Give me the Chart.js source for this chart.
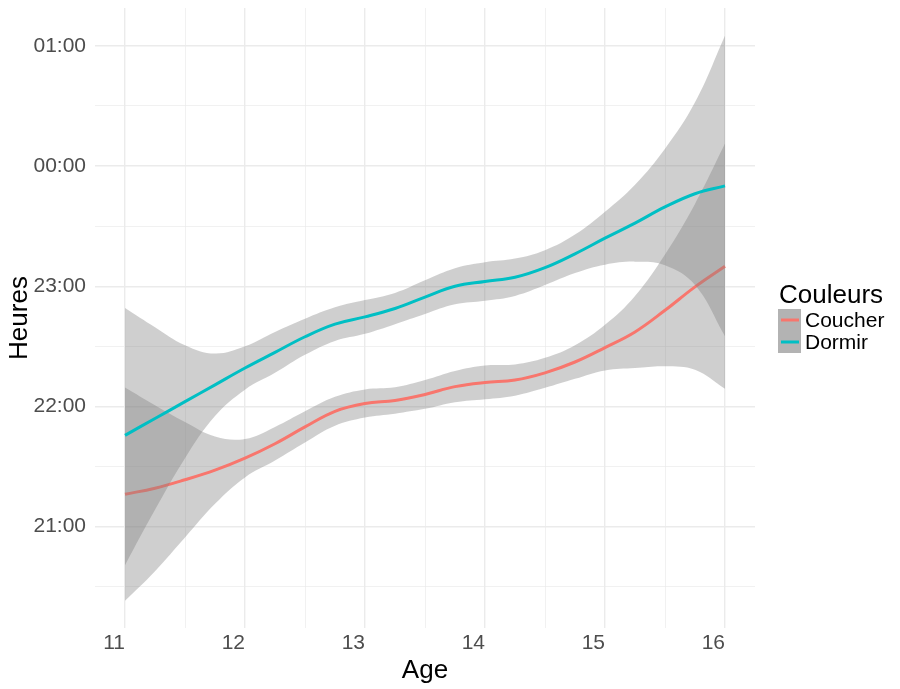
<!DOCTYPE html>
<html>
<head>
<meta charset="utf-8">
<title>Heures de coucher</title>
<script src="https://cdn.jsdelivr.net/npm/chart.js@4"></script>
<style>
  html, body { margin: 0; padding: 0; background: #fff; }
</style>
</head>
<body>
<canvas id="smooth-chart" width="900" height="689"></canvas>
<script>
// ages where the smoothed curves were read
const ages = [11, 11.25, 11.5, 11.75, 12, 12.25, 12.5, 12.75, 13, 13.25, 13.5,
              13.75, 14, 14.25, 14.5, 14.75, 15, 15.25, 15.5, 15.75, 16];

// hours (24 = 00:00, 25 = 01:00)
const coucher      = [21.27, 21.32, 21.39, 21.47, 21.57, 21.69, 21.83, 21.96, 22.025, 22.05, 22.10,
                      22.165, 22.20, 22.22, 22.28, 22.37, 22.49, 22.62, 22.80, 22.995, 23.167];
const coucherHaut  = [22.157, 22.01, 21.87, 21.75, 21.73, 21.83, 21.96, 22.08, 22.142, 22.16, 22.22,
                      22.295, 22.34, 22.35, 22.405, 22.51, 22.68, 22.92, 23.265, 23.685, 24.187];
const coucherBas   = [20.383, 20.63, 20.91, 21.19, 21.41, 21.55, 21.70, 21.84, 21.908, 21.94, 21.98,
                      22.035, 22.06, 22.09, 22.155, 22.23, 22.30, 22.32, 22.335, 22.305, 22.147];

const dormir       = [21.76, 21.90, 22.04, 22.18, 22.32, 22.45, 22.58, 22.685, 22.745, 22.815, 22.91,
                      23.00, 23.04, 23.075, 23.155, 23.27, 23.40, 23.525, 23.66, 23.77, 23.835];
const dormirHaut   = [22.82, 22.66, 22.51, 22.44, 22.50, 22.62, 22.73, 22.825, 22.885, 22.945, 23.05,
                      23.15, 23.20, 23.23, 23.30, 23.43, 23.62, 23.845, 24.145, 24.53, 25.085];
const dormirBas    = [20.68, 21.14, 21.57, 21.92, 22.14, 22.28, 22.43, 22.545, 22.605, 22.685, 22.77,
                      22.85, 22.88, 22.92, 23.01, 23.11, 23.18, 23.205, 23.175, 23.01, 22.585];

const xTicks = [11, 11.5, 12, 12.5, 13, 13.5, 14, 14.5, 15, 15.5, 16];
const yTicks = [20.5, 21, 21.5, 22, 22.5, 23, 23.5, 24, 24.5, 25];
const yTickLabels = {21: '21:00', 22: '22:00', 23: '23:00', 24: '00:00', 25: '01:00'};

const seriesNames = ['Coucher', 'Dormir'];
const seriesColors = ['#F8766D', '#00BFC4'];
const legendTitle = 'Couleurs';

const FONT = '"Liberation Sans", Arial, Helvetica, sans-serif';
const RIBBON = 'rgba(130,130,130,0.38)';

const pts = ys => ys.map((y, i) => ({x: ages[i], y: y}));

const lineSet = (label, ys, color) => ({
    label: label,
    data: pts(ys),
    borderColor: color,
    borderWidth: 3,
    pointRadius: 0,
    fill: false,
    tension: 0.4
});

const bandSet = (ys, fill) => ({
    label: '',
    data: pts(ys),
    borderWidth: 0,
    borderColor: 'rgba(0,0,0,0)',
    backgroundColor: RIBBON,
    pointRadius: 0,
    fill: fill,
    tension: 0.4
});

const majorGrid = v => Number.isInteger(v);

const legendKeys = {
    id: 'legendKeys',
    afterDraw(chart) {
        const ctx = chart.ctx;
        const left = chart.chartArea.right + 23;
        ctx.save();
        ctx.fillStyle = '#000';
        ctx.font = '26px ' + FONT;
        ctx.textBaseline = 'alphabetic';
        ctx.fillText(legendTitle, left + 1, 303);
        ctx.fillStyle = '#b3b3b3';
        ctx.fillRect(left, 309, 23, 44);
        seriesNames.forEach((name, i) => {
            const y = 320 + i * 22;
            ctx.strokeStyle = seriesColors[i];
            ctx.lineWidth = 3;
            ctx.beginPath();
            ctx.moveTo(left + 3, y);
            ctx.lineTo(left + 21, y);
            ctx.stroke();
            ctx.fillStyle = '#000';
            ctx.font = '21px ' + FONT;
            ctx.textBaseline = 'middle';
            ctx.fillText(name, left + 27, y + 1);
        });
        ctx.restore();
    }
};

const chart = new Chart(document.getElementById('smooth-chart'), {
    type: 'line',
    data: {
        // index 0 is drawn last (on top): teal group over red group
        datasets: [
            lineSet(seriesNames[1], dormir, seriesColors[1]),
            bandSet(dormirHaut, false),
            bandSet(dormirBas, '-1'),
            lineSet(seriesNames[0], coucher, seriesColors[0]),
            bandSet(coucherHaut, false),
            bandSet(coucherBas, '-1')
        ]
    },
    options: {
        responsive: false,
        animation: false,
        layout: { padding: { top: 8, right: 145, left: 0, bottom: 0 } },
        plugins: {
            legend: { display: false },
            tooltip: { enabled: false }
        },
        scales: {
            x: {
                type: 'linear',
                min: 10.75,
                max: 16.25,
                afterBuildTicks: s => { s.ticks = xTicks.map(v => ({value: v})); },
                afterFit: s => { s.height = 61; s.paddingLeft = 0; s.paddingRight = 0; },
                border: { display: false },
                grid: {
                    drawTicks: false,
                    color: '#ebebeb',
                    lineWidth: c => majorGrid(c.tick.value) ? 1.4 : 0.7
                },
                ticks: {
                    autoSkip: false,
                    maxRotation: 0,
                    align: 'end',
                    padding: 3,
                    color: '#4d4d4d',
                    font: { family: FONT, size: 21 },
                    callback: v => majorGrid(v) ? String(v) : ''
                },
                title: {
                    display: true,
                    text: 'Age',
                    color: '#000',
                    font: { family: FONT, size: 26 },
                    padding: { top: 3, bottom: 3 }
                }
            },
            y: {
                type: 'linear',
                min: 20.157,
                max: 25.315,
                afterBuildTicks: s => { s.ticks = yTicks.map(v => ({value: v})); },
                afterFit: s => { s.width = 95; s.paddingTop = 0; s.paddingBottom = 0; },
                border: { display: false },
                grid: {
                    drawTicks: false,
                    color: '#ebebeb',
                    lineWidth: c => majorGrid(c.tick.value) ? 1.4 : 0.7
                },
                ticks: {
                    autoSkip: false,
                    padding: 9,
                    color: '#4d4d4d',
                    font: { family: FONT, size: 21 },
                    callback: v => yTickLabels[v] || ''
                },
                title: {
                    display: true,
                    text: 'Heures',
                    color: '#000',
                    font: { family: FONT, size: 26 },
                    padding: { top: 4, bottom: 2 }
                }
            }
        }
    },
    plugins: [legendKeys]
});
</script>
</body>
</html>
